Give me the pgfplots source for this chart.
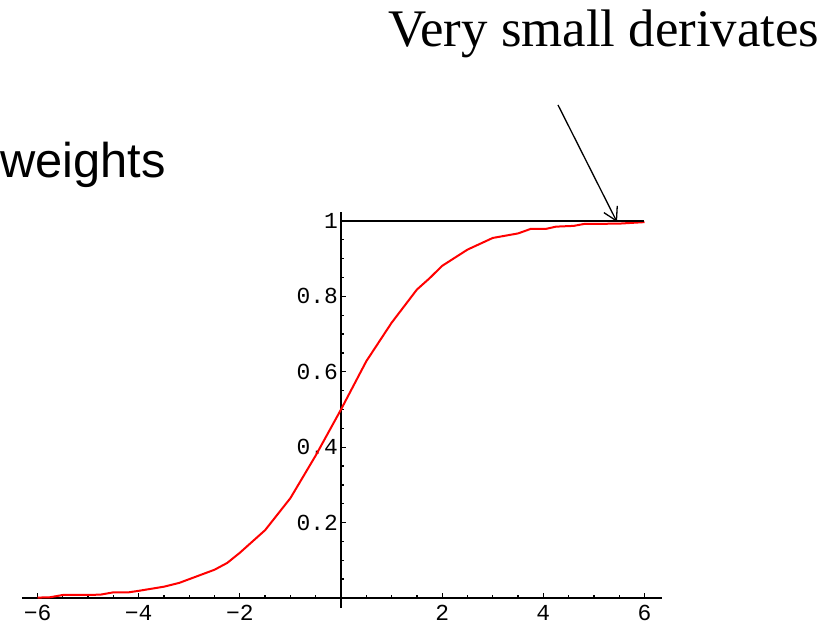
\documentclass[border=0pt]{standalone}
\usepackage{pgfplots}
\pgfplotsset{compat=1.18}
\usepackage{fontspec}
\setmainfont{Liberation Serif}
\newfontfamily\courier{Liberation Mono}
\newfontfamily\arial{Liberation Sans}
\usetikzlibrary{arrows.meta}

% logistic activation, sampled
\pgfplotstableread{
x      y
-6.00  0.001
-5.75  0.002
-5.50  0.008
-5.00  0.008
-4.75  0.009
-4.50  0.015
-4.20  0.015
-4.00  0.019
-3.50  0.030
-3.20  0.040
-3.00  0.050
-2.50  0.075
-2.25  0.093
-2.00  0.120
-1.50  0.180
-1.00  0.265
-0.50  0.378
 0.00  0.500
 0.50  0.628
 1.00  0.730
 1.50  0.818
 1.75  0.848
 2.00  0.881
 2.50  0.924
 3.00  0.955
 3.50  0.967
 3.75  0.979
 4.05  0.979
 4.25  0.985
 4.60  0.987
 4.80  0.992
 5.50  0.993
 6.00  0.997
}\sigmoid

\begin{document}
\begin{tikzpicture}[x=1bp,y=1bp]
\useasboundingbox (0,0) rectangle (827,627);
\begin{axis}[
  at={(341bp,29bp)}, anchor=origin,
  x=50.58bp, y=377bp,
  xmin=-6.31, xmax=6.35, ymin=-0.027, ymax=1.024,
  axis lines=middle,
  axis line style={-, line width=1.5bp, black},
  xtick={-6,-4,-2,2,4,6},
  xticklabels={−6,−4,−2,2,4,6},
  ytick={0.2,0.4,0.6,0.8,1},
  yticklabels={0.2,0.4,0.6,0.8,1},
  minor xtick={-5.5,-5,-4.5,-3.5,-3,-2.5,-1.5,-1,-0.5,0.5,1,1.5,2.5,3,3.5,4.5,5,5.5},
  minor ytick={0.05,0.1,0.15,0.25,0.3,0.35,0.45,0.5,0.55,0.65,0.7,0.75,0.85,0.9,0.95},
  tick align=inside,
  major tick length=5bp,
  minor tick length=2.5bp,
  every tick/.style={black, line width=1.3bp},
  ticklabel style={font={\fontsize{23}{25}\selectfont\courier}},
  xticklabel style={inner sep=1bp, yshift=-6bp},
  yticklabel style={inner sep=3bp},
]
\addplot[red, line width=2bp] table[x=x, y=y] {\sigmoid};
\addplot[black, line width=1.5bp] coordinates {(0,1) (6,1)};
\end{axis}
\draw[line width=1.3bp, -{Straight Barb[length=13bp,width=15bp,line width=1.3bp]}] (558,522) -- (617,405);
\node[anchor=base west, inner sep=0, font=\fontsize{53}{58}\selectfont] at (388,580) {Very small derivates};
\node[anchor=base east, inner sep=0, font=\fontsize{49}{56}\selectfont\arial] at (166,449) {weights};
\end{tikzpicture}
\end{document}
